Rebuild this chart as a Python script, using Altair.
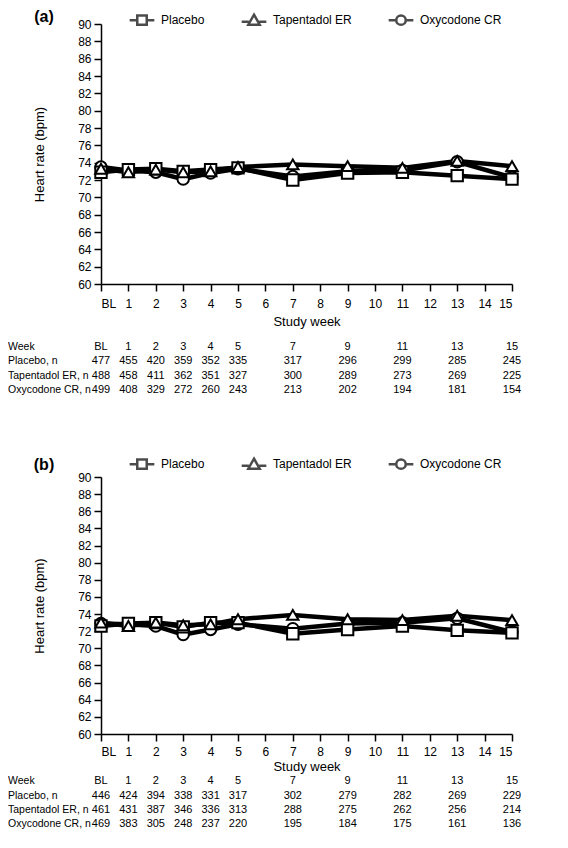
import altair as alt
import pandas as pd

# ---------------- data ----------------
weeks = [0, 1, 2, 3, 4, 5, 7, 9, 11, 13, 15]
week_labels = ["BL", "1", "2", "3", "4", "5", "7", "9", "11", "13", "15"]
groups = ["Placebo", "Tapentadol ER", "Oxycodone CR"]
row_labels = ["Week", "Placebo, n", "Tapentadol ER, n", "Oxycodone CR, n"]

# panel (a) heart rate
hr_a_placebo = [72.9, 73.2, 73.3, 73.0, 73.2, 73.4, 72.0, 72.8, 72.9, 72.5, 72.1]
hr_a_tap = [73.3, 72.9, 73.2, 72.9, 73.0, 73.5, 73.8, 73.6, 73.4, 74.2, 73.6]
hr_a_oxy = [73.5, 73.1, 72.9, 72.1, 72.8, 73.3, 72.4, 73.0, 73.1, 74.1, 72.3]

# panel (b) heart rate
hr_b_placebo = [72.6, 72.9, 73.0, 72.5, 73.0, 73.0, 71.7, 72.2, 72.6, 72.1, 71.8]
hr_b_tap = [73.0, 72.6, 73.0, 72.7, 72.8, 73.4, 73.9, 73.4, 73.3, 73.8, 73.3]
hr_b_oxy = [72.9, 72.8, 72.6, 71.6, 72.2, 72.8, 72.3, 72.9, 73.0, 73.5, 71.9]

# patient numbers
n_a_placebo = [477, 455, 420, 359, 352, 335, 317, 296, 299, 285, 245]
n_a_tap = [488, 458, 411, 362, 351, 327, 300, 289, 273, 269, 225]
n_a_oxy = [499, 408, 329, 272, 260, 243, 213, 202, 194, 181, 154]
n_b_placebo = [446, 424, 394, 338, 331, 317, 302, 279, 282, 269, 229]
n_b_tap = [461, 431, 387, 346, 336, 313, 288, 275, 262, 256, 214]
n_b_oxy = [469, 383, 305, 248, 237, 220, 195, 184, 175, 161, 136]

FONT = "Liberation Sans, Arial, sans-serif"
BOLD = "Liberation Sans, Arial, sans-serif"

point_shapes = ["square", "triangle-up", "circle"]
legend_paths = [
    "M-2.6,0H-1M1,0H2.6M-1,-1H1V1H-1Z",
    "M-2.6,0.3H-1.1M1.1,0.3H2.6M0,-1.2L1.2,0.9H-1.2Z",
    "M-2.6,0H-1M1,0H2.6M-1,0A1,1 0 1,0 1,0A1,1 0 1,0 -1,0Z",
]

LEFT = 93      # space from chart left edge to plot area
PLOT_W = 411


def make_panel(tag, hr_vals, n_vals, height, legend_y, tag_y, lab_pad, title_pad, row_y):
    rows = []
    # draw order: circle, square, triangle on top
    for gi in [2, 0, 1]:
        for w, v in zip(weeks, hr_vals[gi]):
            rows.append({"week": w, "hr": v, "group": groups[gi]})
    df = pd.DataFrame(rows)

    x_enc = alt.X(
        "week:Q",
        scale=alt.Scale(domain=[0, 15], nice=False, zero=False),
        axis=alt.Axis(
            values=list(range(16)),
            labelExpr="datum.value == 0 ? 'BL' : datum.label",
            title="Study week",
            labelPadding=lab_pad,
            titlePadding=title_pad,
        ),
    )
    y_enc = alt.Y(
        "hr:Q",
        scale=alt.Scale(domain=[60, 90], nice=False, zero=False),
        axis=alt.Axis(values=list(range(60, 91, 2)), title="Heart rate (bpm)",
                      labelPadding=3, titlePadding=31),
    )

    base = alt.Chart(df)
    lines = base.mark_line(color="black", strokeWidth=4.5).encode(
        x=x_enc, y=y_enc, detail="group:N"
    )
    points = base.mark_point(
        filled=False, fill="white", stroke="black", strokeWidth=2, size=130, opacity=1
    ).encode(
        x=x_enc,
        y=y_enc,
        shape=alt.Shape("group:N", scale=alt.Scale(domain=groups, range=point_shapes), legend=None),
    )
    legend_layer = base.transform_filter("false").mark_point(
        color="black", strokeWidth=2.5, filled=False
    ).encode(
        x=x_enc,
        y=y_enc,
        shape=alt.Shape(
            "group:N",
            scale=alt.Scale(domain=groups, range=legend_paths),
            legend=alt.Legend(
                title=None,
                orient="none",
                legendX=35,
                legendY=legend_y,
                direction="horizontal",
                symbolSize=90,
                symbolStrokeColor="black",
                symbolStrokeWidth=2.5,
                symbolFillColor="white",
                labelFont=FONT,
                labelFontSize=12,
                labelColor="black",
                labelOffset=13,
                columnPadding=31,
                padding=0,
            ),
        ),
    )

    layers = [lines, points, legend_layer]

    # table rows
    table_vals = [week_labels] + [[str(v) for v in vals] for vals in n_vals]
    for ri, (lab, vals) in enumerate(zip(row_labels, table_vals)):
        tdf = pd.DataFrame({"week": weeks, "txt": vals})
        layers.append(
            alt.Chart(tdf).mark_text(font=FONT, fontSize=11, color="black", baseline="middle")
            .encode(x=x_enc, y=alt.value(row_y[ri]), text="txt:N")
        )
        layers.append(
            alt.Chart(pd.DataFrame({"lab": [lab]})).mark_text(
                font=FONT, fontSize=10.5, color="black", align="left", baseline="middle"
            ).encode(x=alt.value(-LEFT), y=alt.value(row_y[ri]), text="lab:N")
        )

    # panel tag
    layers.append(
        alt.Chart(pd.DataFrame({"t": [tag]})).mark_text(
            font=BOLD, fontSize=16, fontWeight="bold", color="black", align="center", baseline="middle"
        ).encode(x=alt.value(-57), y=alt.value(tag_y), text="t:N")
    )

    return alt.layer(*layers).resolve_scale(shape="independent").properties(
        width=PLOT_W, height=height
    )


panel_a = make_panel(
    "(a)", [hr_a_placebo, hr_a_tap, hr_a_oxy], [n_a_placebo, n_a_tap, n_a_oxy],
    260, -10, -7.5, 7, 6, [323, 337.3, 351.6, 366],
)
panel_b = make_panel(
    "(b)", [hr_b_placebo, hr_b_tap, hr_b_oxy], [n_b_placebo, n_b_tap, n_b_oxy],
    257, -19, -12.5, 5, 3, [304, 318.5, 333, 347],
)

chart = (
    alt.vconcat(panel_a, panel_b, spacing=60)
    .properties(padding={"left": 0, "top": 0, "right": 0, "bottom": 0})
    .configure_view(stroke=None)
    .configure_axis(
        domainColor="black",
        domainWidth=1.5,
        tickColor="black",
        tickWidth=1.5,
        tickSize=7,
        grid=False,
        labelFont=FONT,
        labelFontSize=12,
        labelColor="black",
        titleFont=FONT,
        titleFontSize=13,
        titleFontWeight="normal",
        titleColor="black",
    )
)

chart.save("out.html", embed_options={"renderer": "svg", "actions": False})
